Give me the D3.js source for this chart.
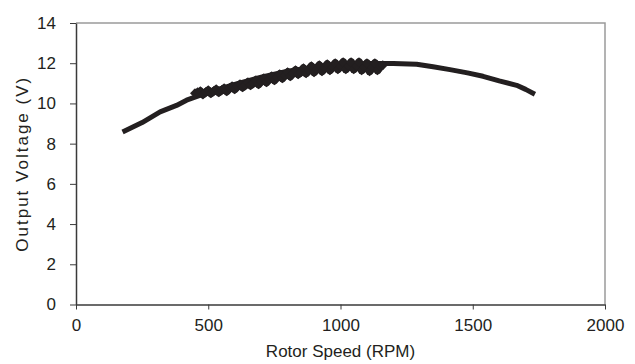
<!DOCTYPE html>
<html>
<head>
<meta charset="utf-8">
<script src="https://cdn.jsdelivr.net/npm/d3@7"></script>
<style>
  body { margin: 0; background: #fff; }
  text { font-family: "Liberation Sans", Arial, sans-serif; fill: #231f20; }
</style>
</head>
<body>
<div id="chart"></div>
<script>
// fitted curve (rpm, volts)
const fitRpm = [176, 250, 318, 380, 418, 500, 600, 700, 800, 900, 1000, 1100, 1200, 1288, 1350, 1414, 1480, 1539, 1600, 1666, 1700, 1735];
const fitVolt = [8.58, 9.05, 9.58, 9.9, 10.16, 10.55, 10.95, 11.3, 11.6, 11.8, 11.92, 11.98, 11.98, 11.95, 11.82, 11.68, 11.52, 11.35, 11.12, 10.9, 10.7, 10.46];

// measured points (noisy band)
const measRpm = [450, 460, 470, 480, 490, 500, 510, 520, 530, 540, 550, 560, 570, 580, 590, 600, 610, 620, 630, 640,
  650, 660, 670, 680, 690, 700, 710, 720, 730, 740, 750, 760, 770, 780, 790, 800, 810, 820, 830, 840,
  850, 860, 870, 880, 890, 900, 910, 920, 930, 940, 950, 960, 970, 980, 990, 1000, 1010, 1020, 1030, 1040,
  1050, 1060, 1070, 1080, 1090, 1100, 1110, 1120, 1130, 1140, 1150, 1160];
const measVolt = [10.5, 10.55, 10.6, 10.45, 10.55, 10.65, 10.5, 10.6, 10.7, 10.55, 10.65, 10.75, 10.6, 10.75, 10.85, 10.7, 10.85, 10.95, 10.8, 10.9,
  11.05, 10.9, 11.0, 11.15, 10.95, 11.1, 11.25, 11.05, 11.2, 11.35, 11.15, 11.3, 11.45, 11.25, 11.4, 11.55, 11.35, 11.5, 11.65, 11.45,
  11.55, 11.75, 11.5, 11.65, 11.85, 11.55, 11.7, 11.9, 11.6, 11.75, 11.95, 11.65, 11.8, 12.0, 11.7, 11.85, 12.05, 11.7, 11.85, 12.05,
  11.7, 11.85, 12.05, 11.65, 11.8, 12.0, 11.6, 11.8, 12.0, 11.65, 11.85, 11.9];

const xTicks = [0, 500, 1000, 1500, 2000];
const yTicks = [0, 2, 4, 6, 8, 10, 12, 14];

const w = 635;
const h = 364;
const padL = 76, padR = 605, padT = 23, padB = 304.5;

const svg = d3.select('#chart')
  .append('svg')
  .attr('width', w)
  .attr('height', h);

const xScale = d3.scaleLinear().domain([0, 2000]).range([padL, padR]);
const yScale = d3.scaleLinear().domain([0, 14]).range([padB, padT]);

// top & right frame
svg.append('path')
  .attr('d', `M${padL},${padT}H${padR}V${padB}`)
  .attr('fill', 'none')
  .attr('stroke', '#9a9a9a')
  .attr('stroke-width', 1.5);

const xAxis = d3.axisBottom(xScale)
  .tickValues(xTicks)
  .tickSize(5)
  .tickSizeOuter(0)
  .tickPadding(9)
  .tickFormat(d3.format('d'));

const yAxis = d3.axisLeft(yScale)
  .tickValues(yTicks)
  .tickSize(6)
  .tickSizeOuter(0)
  .tickPadding(14);

const gx = svg.append('g')
  .attr('transform', `translate(0,${padB})`)
  .call(xAxis);

const gy = svg.append('g')
  .attr('transform', `translate(${padL},0)`)
  .call(yAxis);

[gx, gy].forEach(g => {
  g.select('.domain').attr('stroke', '#3a3a3a').attr('stroke-width', 1.5);
  g.selectAll('.tick line').attr('stroke', '#3a3a3a');
  g.selectAll('text')
    .style('font-family', '"Liberation Sans", Arial, sans-serif')
    .style('font-size', '17px')
    .attr('fill', '#231f20');
});

const line = d3.line()
  .x(d => xScale(d[0]))
  .y(d => yScale(d[1]));

const fitData = fitRpm.map((r, i) => [r, fitVolt[i]]);
const measData = measRpm.map((r, i) => [r, measVolt[i]]);

svg.append('path')
  .datum(fitData)
  .attr('d', line)
  .attr('fill', 'none')
  .attr('stroke', '#231f20')
  .attr('stroke-width', 5)
  .attr('stroke-linejoin', 'round');

svg.append('path')
  .datum(measData)
  .attr('d', line)
  .attr('fill', 'none')
  .attr('stroke', '#231f20')
  .attr('stroke-width', 8)
  .attr('stroke-linejoin', 'round');

const marker = d3.symbol().type(d3.symbolSquare).size(50);
svg.selectAll('.pt')
  .data(measData)
  .enter()
  .append('path')
  .attr('class', 'pt')
  .attr('d', marker)
  .attr('transform', d => `translate(${xScale(d[0])},${yScale(d[1])}) rotate(45)`)
  .attr('fill', '#231f20');

svg.append('text')
  .attr('x', xScale(1000))
  .attr('y', 357)
  .attr('text-anchor', 'middle')
  .style('font-size', '17px')
  .text('Rotor Speed (RPM)');

svg.append('text')
  .attr('transform', `translate(28,${(padT + padB) / 2}) rotate(-90)`)
  .attr('text-anchor', 'middle')
  .style('font-size', '17px')
  .style('letter-spacing', '2px')
  .text('Output Voltage (V)');
</script>
</body>
</html>
